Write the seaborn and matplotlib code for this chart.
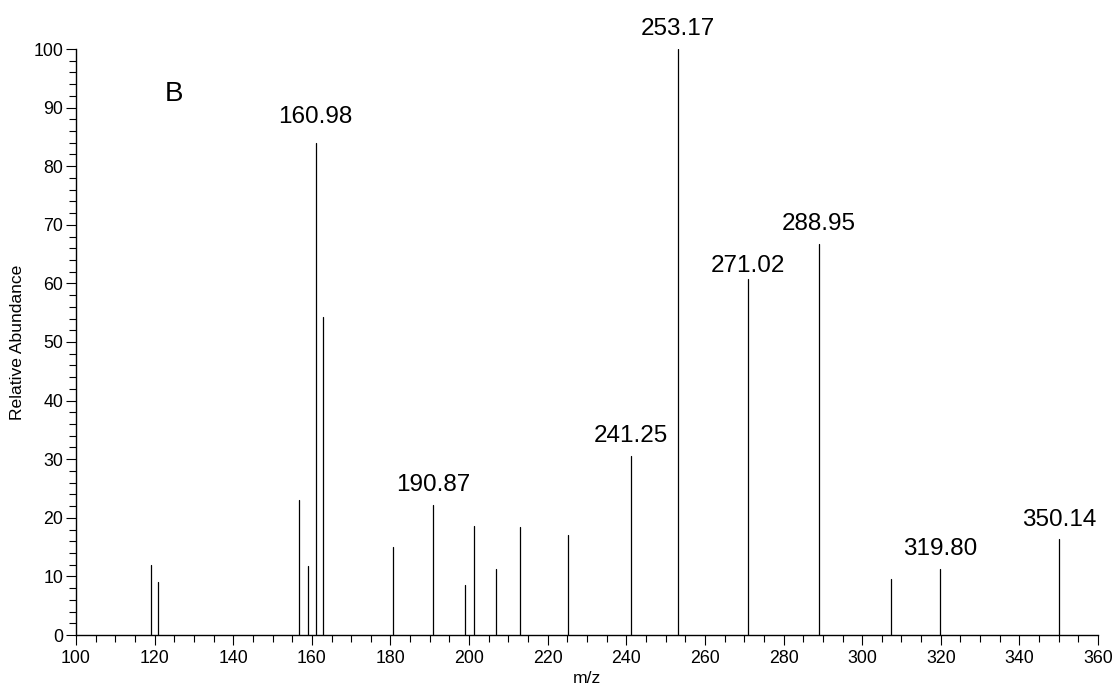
import matplotlib
matplotlib.use("Agg")
import matplotlib.pyplot as plt
from matplotlib.ticker import MultipleLocator
import numpy as np
import pandas as pd
import seaborn as sns

# Fragment ions: m/z and relative abundance (%)
mz = [119.2, 120.9, 156.8, 158.9, 160.98, 162.8, 180.6, 190.87, 198.9, 201.2,
      206.9, 213.0, 225.1, 241.25, 253.17, 271.02, 288.95, 307.3, 319.80, 350.14]
abundance = [11.9, 9.0, 23.0, 11.7, 84.0, 54.2, 15.1, 22.2, 8.5, 18.6,
             11.3, 18.5, 17.1, 30.6, 100.0, 60.7, 66.8, 9.5, 11.3, 16.3]

# Peaks annotated with their m/z value
labelled = [160.98, 190.87, 241.25, 253.17, 271.02, 288.95, 319.80, 350.14]
label_gap_pt = [14, 10, 10, 10, 5, 10, 10, 10]

panel_letter = "B"

sns.set_theme(style="ticks")
plt.rcParams["font.family"] = ["Liberation Sans", "DejaVu Sans"]

# Each peak is a stick from the baseline up to its abundance
sticks = pd.DataFrame({
    "mz": np.repeat(mz, 2),
    "abundance": np.ravel([[0.0, a] for a in abundance]),
    "peak": np.repeat(np.arange(len(mz)), 2),
})

fig = plt.figure(figsize=(11.2, 6.92), dpi=100)
ax = fig.add_axes([76 / 1120, 1 - 635 / 692, (1098 - 76) / 1120, (635 - 49) / 692])

sns.lineplot(data=sticks, x="mz", y="abundance", units="peak", estimator=None,
             sort=False, color="black", linewidth=0.9, ax=ax, legend=False)

ax.set_xlim(100, 360)
ax.set_ylim(0, 100)
ax.xaxis.set_major_locator(MultipleLocator(20))
ax.xaxis.set_minor_locator(MultipleLocator(5))
ax.yaxis.set_major_locator(MultipleLocator(10))
ax.yaxis.set_minor_locator(MultipleLocator(2))

for side in ("top", "right"):
    ax.spines[side].set_visible(False)
for side in ("left", "bottom"):
    ax.spines[side].set_linewidth(1.0)
    ax.spines[side].set_color("black")

ax.tick_params(axis="both", which="major", length=7, width=0.8, color="black",
               labelsize=12.8, labelcolor="black", direction="out")
ax.tick_params(axis="both", which="minor", length=5, width=0.8, color="black",
               direction="out")
ax.tick_params(axis="y", which="major", pad=2)
ax.tick_params(axis="x", which="major", pad=4)

ax.set_xlabel("m/z", fontsize=12.6, color="black", labelpad=3)
ax.set_ylabel("Relative Abundance", fontsize=12.6, color="black", labelpad=6)

lookup = dict(zip(mz, abundance))
for value, gap in zip(labelled, label_gap_pt):
    ax.annotate(f"{value:.2f}", xy=(value, lookup[value]), xytext=(0, gap),
                textcoords="offset points", ha="center", va="baseline",
                fontsize=17.5, color="black", annotation_clip=False)

ax.text(122.6, 91.2, panel_letter, fontsize=20, color="black",
        ha="left", va="baseline")

ax.set_facecolor("white")
fig.patch.set_facecolor("white")
fig.savefig("out.png", dpi=100, facecolor="white")
